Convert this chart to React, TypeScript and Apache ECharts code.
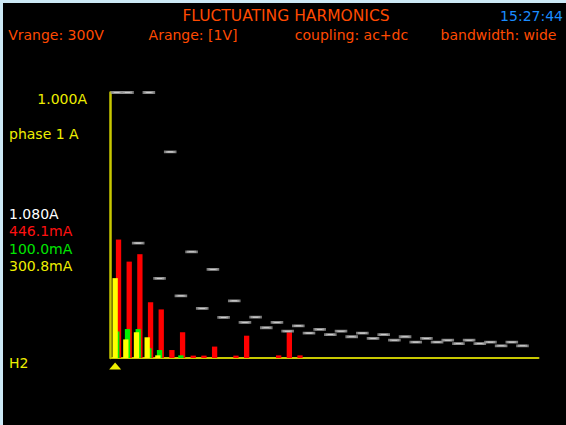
import React, { useEffect, useRef } from 'react';
import * as echarts from 'echarts';

const harmonics = [
  'H2', 'H3', 'H4', 'H5', 'H6', 'H7', 'H8', 'H9', 'H10', 'H11',
  'H12', 'H13', 'H14', 'H15', 'H16', 'H17', 'H18', 'H19', 'H20', 'H21',
  'H22', 'H23', 'H24', 'H25', 'H26', 'H27', 'H28', 'H29', 'H30', 'H31',
  'H32', 'H33', 'H34', 'H35', 'H36', 'H37', 'H38', 'H39', 'H40', 'H41',
];

// white markers (A)
const whiteValues: (number | null)[] = [
  1.080, 1.0, 0.433, 1.0, 0.300, 0.776, 0.234, 0.400, 0.187, 0.334,
  0.153, 0.215, 0.134, 0.154, 0.114, 0.134, 0.101, 0.121, 0.094, 0.108,
  0.088, 0.101, 0.080, 0.094, 0.074, 0.088, 0.067, 0.080, 0.060, 0.074,
  0.060, 0.067, 0.054, 0.067, 0.054, 0.060, 0.046, 0.060, 0.046, null,
];

// red bars (A)
const redValues = [
  0.4461, 0.363, 0.391, 0.210, 0.183, 0.030, 0.097, 0.009, 0.009, 0.043,
  0, 0.009, 0.084, 0, 0, 0.010, 0.097, 0.010, 0, 0,
  0, 0, 0, 0, 0, 0, 0, 0, 0, 0,
  0, 0, 0, 0, 0, 0, 0, 0, 0, 0,
];

// green bars (A)
const greenValues = [
  0.100, 0.109, 0.109, 0.037, 0.030, 0, 0.010, 0, 0, 0,
  0, 0, 0, 0, 0, 0, 0, 0, 0, 0,
  0, 0, 0, 0, 0, 0, 0, 0, 0, 0,
  0, 0, 0, 0, 0, 0, 0, 0, 0, 0,
];

// yellow bars (A)
const yellowValues = [
  0.3008, 0.070, 0.097, 0.078, 0.010, 0, 0, 0, 0, 0,
  0, 0, 0, 0, 0, 0, 0, 0, 0, 0,
  0, 0, 0, 0, 0, 0, 0, 0, 0, 0,
  0, 0, 0, 0, 0, 0, 0, 0, 0, 0,
];

const yMax = 1.0;
const cursorIndex = 0;
const titleText = 'FLUCTUATING HARMONICS';
const clockText = '15:27:44';
const statusTexts = ['Vrange: 300V', 'Arange: [1V]', 'coupling: ac+dc', 'bandwidth: wide'];
const channelText = 'phase 1 A';

const FONT = '"DejaVu Sans", sans-serif';
const ORANGE = '#ff4a00';
const LABEL_YELLOW = '#eeee00';
const AXIS_YELLOW = '#c8c800';

function fmtAmp(v: number): string {
  if (v >= 1) return v.toFixed(3) + 'A';
  return (v * 1000).toFixed(1) + 'mA';
}

function txt(text: string, x: number, y: number, fill: string, align: string, size = 14) {
  return {
    type: 'text',
    x,
    y,
    silent: true,
    style: {
      text,
      fill,
      fontSize: size,
      fontFamily: FONT,
      align,
      verticalAlign: 'middle',
      textAlign: align,
      textVerticalAlign: 'middle',
    },
  };
}

export default function App() {
  const ref = useRef<HTMLDivElement>(null);

  useEffect(() => {
    if (!ref.current) return;
    const chart = echarts.init(ref.current, undefined, { renderer: 'svg' });
    const statusCenters = [53, 190, 348.5, 495.5];
    const option: any = {
      animation: false,
      backgroundColor: '#000000',
      grid: { left: 108.5, right: 27.5, top: 89.5, bottom: 67, containLabel: false },
      xAxis: {
        type: 'category',
        data: harmonics,
        boundaryGap: true,
        axisLine: { show: true, lineStyle: { color: AXIS_YELLOW, width: 2 } },
        axisTick: { show: false },
        axisLabel: { show: false },
        splitLine: { show: false },
      },
      yAxis: {
        type: 'value',
        min: 0,
        max: yMax,
        offset: 1.5,
        axisLine: { show: true, onZero: false, lineStyle: { color: AXIS_YELLOW, width: 2.5 } },
        axisTick: { show: false },
        axisLabel: { show: false },
        splitLine: { show: false },
      },
      series: [
        {
          type: 'bar',
          name: 'yellow',
          data: yellowValues,
          barWidth: 5.3,
          barGap: '-68%',
          z: 4,
          itemStyle: { color: '#ffff00' },
          markPoint: {
            symbol: 'triangle',
            symbolSize: [12, 7],
            symbolOffset: [0, 8],
            silent: true,
            label: { show: false },
            itemStyle: { color: LABEL_YELLOW },
            data: [{ coord: [harmonics[cursorIndex], 0] }],
          },
        },
        {
          type: 'bar',
          name: 'green',
          data: greenValues,
          barWidth: 5.3,
          barGap: '-68%',
          z: 3,
          itemStyle: { color: '#00f000' },
        },
        {
          type: 'bar',
          name: 'red',
          data: redValues,
          barWidth: 5.3,
          barGap: '-68%',
          z: 2,
          itemStyle: { color: '#ff0000' },
        },
        {
          type: 'scatter',
          name: 'white',
          data: whiteValues.map((v) => (v == null ? null : Math.min(v, yMax))),
          symbol: 'rect',
          symbolSize: [9, 2],
          z: 5,
          itemStyle: { color: '#ffffff', borderColor: '#9a9a9a', borderWidth: 0.8 },
        },
      ],
      graphic: [
        txt(titleText, 283, 13, ORANGE, 'center', 15.5),
        txt(clockText, 560, 13, '#1a8cff', 'right', 14),
        ...statusTexts.map((s, i) => txt(s, statusCenters[i], 31.5, ORANGE, 'center', 14)),
        txt(fmtAmp(yMax), 84, 95.5, LABEL_YELLOW, 'right', 14),
        txt(channelText, 6, 131, LABEL_YELLOW, 'left', 14),
        txt(fmtAmp(whiteValues[cursorIndex] as number), 6, 210.8, '#ffffff', 'left', 14),
        txt(fmtAmp(redValues[cursorIndex]), 6, 228.3, '#ff1010', 'left', 14),
        txt(fmtAmp(greenValues[cursorIndex]), 6, 245.8, '#00e600', 'left', 14),
        txt(fmtAmp(yellowValues[cursorIndex]), 6, 263.3, LABEL_YELLOW, 'left', 14),
        txt(harmonics[cursorIndex], 6, 359.5, LABEL_YELLOW, 'left', 14),
      ],
    };
    chart.setOption(option);
    return () => chart.dispose();
  }, []);

  return (
    <div
      style={{
        position: 'fixed',
        left: 0,
        top: 0,
        width: 566,
        height: 425,
        background: '#cde9f6',
        overflow: 'hidden',
      }}
    >
      <div
        ref={ref}
        style={{ position: 'absolute', left: 3, top: 3, width: 563, height: 422, background: '#000' }}
      />
    </div>
  );
}
